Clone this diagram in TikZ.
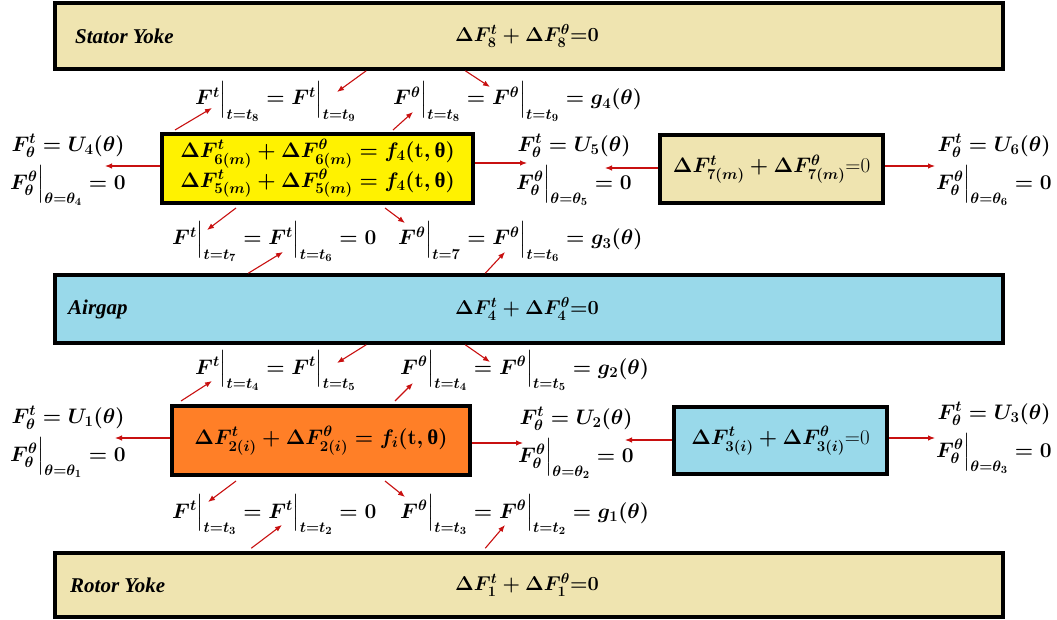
\RequirePackage{fix-cm}
\documentclass[tikz,border=0pt]{standalone}
\usepackage{amsmath}
\usepackage{fontspec}
\newfontfamily\grkfont{Liberation Serif}
\newfontfamily\lblfont{Liberation Serif}
\usetikzlibrary{arrows.meta}
\DeclareMathSizes{21}{21}{15}{11}
\DeclareMathSizes{20}{20}{14.5}{11}
\definecolor{beige}{RGB}{239,228,176}
\definecolor{skyb}{RGB}{153,217,234}
\definecolor{yel}{RGB}{255,242,0}
\definecolor{orng}{RGB}{255,127,39}
\definecolor{arr}{RGB}{200,16,16}
\newcommand{\ev}[2]{#1\Big|_{#2}}
\newcommand{\uth}{\mbox{\grkfont\bfseries θ}}
\begin{document}
\begin{tikzpicture}[x=1pt,y=-1pt,
  bar/.style={draw=black,line width=3.5pt,minimum width=948pt,inner sep=0pt},
  box/.style={draw=black,line width=4pt,inner sep=0pt,align=center,
    font=\fontsize{21}{28}\selectfont\boldmath},
  barlbl/.style={anchor=west,inner sep=0pt,font=\fontsize{21}{24}\selectfont\lblfont\bfseries\itshape},
  bareq/.style={inner sep=0pt,font=\fontsize{20}{22}\selectfont\boldmath},
  cond/.style={anchor=base west,inner sep=0pt,font=\fontsize{21}{24}\selectfont\boldmath},
  bc/.style={anchor=north,inner sep=0pt,align=center,font=\fontsize{21}{38}\selectfont\boldmath},
  con/.style={draw=arr,line width=1.1pt,-{Latex[length=7pt,width=5.5pt]}}]
\useasboundingbox (0,0) rectangle (1057,620);
% bars
\node[bar,fill=beige,minimum height=66pt] (stator) at (529,36) {};
\node[bar,fill=skyb,minimum height=68pt] (airgap) at (529,309) {};
\node[bar,fill=beige,minimum height=64pt] (rotor) at (529,585) {};
\node[barlbl] (statorlbl) at (75,36) {Stator Yoke};
\node[barlbl] (airgaplbl) at (68,309) {Airgap};
\node[barlbl] (rotorlbl) at (70,585) {Rotor Yoke};
\node[bareq] (statoreq) at (527,36) {$\Delta F_8^{t}+\Delta F_8^{\theta}$\textbf{=0}};
\node[bareq] (airgapeq) at (527,309) {$\Delta F_4^{t}+\Delta F_4^{\theta}$\textbf{=0}};
\node[bareq] (rotoreq) at (527,585) {$\Delta F_1^{t}+\Delta F_1^{\theta}$\textbf{=0}};
% boxes
\node[box,fill=yel,minimum width=311pt,minimum height=69pt] (yellow) at (317.5,168.5)
  {$\Delta F^{t}_{6(m)}+\Delta F^{\theta}_{6(m)}=f_4(\mathbf{t},\uth)$\\
   $\Delta F^{t}_{5(m)}+\Delta F^{\theta}_{5(m)}=f_4(\mathbf{t},\uth)$};
\node[box,fill=beige,minimum width=223pt,minimum height=68pt] (tan) at (771.5,169)
  {$\Delta F^{t}_{7(m)}+\Delta F^{\theta}_{7(m)}$=0};
\node[box,fill=orng,minimum width=298pt,minimum height=69pt] (orange) at (321,440.5)
  {$\Delta F^{t}_{2(i)}+\Delta F^{\theta}_{2(i)}=f_i(\mathbf{t},\uth)$};
\node[box,fill=skyb,minimum width=213pt,minimum height=67pt] (blue) at (780.5,440.5)
  {$\Delta F^{t}_{3(i)}+\Delta F^{\theta}_{3(i)}$=0};
% condition labels, upper half
\node[cond] (c8a) at (195,105) {$\ev{F^t}{t=t_8}=\ev{F^t}{t=t_9}$};
\node[cond] (c8b) at (393,105) {$\ev{F^\theta}{t=t_8}=\ev{F^\theta}{t=t_9}=g_4(\theta)$};
\node[bc] (u4) at (68,134) {$F^t_\theta=U_4(\theta)$\\$\ev{F^\theta_\theta}{\theta=\theta_4}=0$};
\node[bc] (u5) at (574,134) {$F^t_\theta=U_5(\theta)$\\$\ev{F^\theta_\theta}{\theta=\theta_5}=0$};
\node[bc] (u6) at (994,134) {$F^t_\theta=U_6(\theta)$\\$\ev{F^\theta_\theta}{\theta=\theta_6}=0$};
\node[cond] (c6a) at (172,245) {$\ev{F^t}{t=t_7}=\ev{F^t}{t=t_6}=0$};
\node[cond] (c6b) at (398,245) {$\ev{F^\theta}{t=7}=\ev{F^\theta}{t=t_6}=g_3(\theta)$};
% condition labels, lower half
\node[cond] (c4a) at (195,374) {$\ev{F^t}{t=t_4}=\ev{F^t}{t=t_5}$};
\node[cond] (c4b) at (400,374) {$\ev{F^\theta}{t=t_4}=\ev{F^\theta}{t=t_5}=g_2(\theta)$};
\node[bc] (u1) at (68,406) {$F^t_\theta=U_1(\theta)$\\$\ev{F^\theta_\theta}{\theta=\theta_1}=0$};
\node[bc] (u2) at (576,407) {$F^t_\theta=U_2(\theta)$\\$\ev{F^\theta_\theta}{\theta=\theta_2}=0$};
\node[bc] (u3) at (994,402) {$F^t_\theta=U_3(\theta)$\\$\ev{F^\theta_\theta}{\theta=\theta_3}=0$};
\node[cond] (c2a) at (172,518) {$\ev{F^t}{t=t_3}=\ev{F^t}{t=t_2}=0$};
\node[cond] (c2b) at (400,518) {$\ev{F^\theta}{t=t_3}=\ev{F^\theta}{t=t_2}=g_1(\theta)$};
% arrow end points
\coordinate (e1) at (337,92);  \coordinate (e2) at (490,87);
\coordinate (e3) at (212,108); \coordinate (e4) at (413,112);
\coordinate (e5) at (105,166); \coordinate (e6) at (527,163);
\coordinate (e7) at (605,168); \coordinate (e8) at (935,166);
\coordinate (e9) at (207,230); \coordinate (e10) at (405,223);
\coordinate (e11) at (283,252); \coordinate (e12) at (505,252);
\coordinate (e13) at (337,363); \coordinate (e14) at (490,362);
\coordinate (e15) at (212,381); \coordinate (e16) at (413,383);
\coordinate (e17) at (115,438); \coordinate (e18) at (523,443);
\coordinate (e19) at (625,440); \coordinate (e20) at (935,438);
\coordinate (e21) at (208,502); \coordinate (e22) at (405,497);
\coordinate (e23) at (282,525); \coordinate (e24) at (505,525);
% arrows
\draw[con] ([xshift=313pt]stator.south west) -- (e1);
\draw[con] ([xshift=412pt]stator.south west) -- (e2);
\draw[con] ([xshift=15pt,yshift=2pt]yellow.north west) -- (e3);
\draw[con] ([xshift=233pt,yshift=2pt]yellow.north west) -- (e4);
\draw[con] (yellow.west |- e5) -- (e5);
\draw[con] (yellow.east |- e6) -- (e6);
\draw[con] (tan.west |- e7) -- (e7);
\draw[con] (tan.east |- e8) -- (e8);
\draw[con] ([xshift=76pt,yshift=-3pt]yellow.south west) -- (e9);
\draw[con] ([xshift=225pt,yshift=-3pt]yellow.south west) -- (e10);
\draw[con] ([xshift=195pt]airgap.north west) -- (e11);
\draw[con] ([xshift=432pt]airgap.north west) -- (e12);
\draw[con] ([xshift=313pt]airgap.south west) -- (e13);
\draw[con] ([xshift=412pt]airgap.south west) -- (e14);
\draw[con] ([xshift=11pt,yshift=3pt]orange.north west) -- (e15);
\draw[con] ([xshift=225pt,yshift=3pt]orange.north west) -- (e16);
\draw[con] (orange.west |- e17) -- (e17);
\draw[con] (orange.east |- e18) -- (e18);
\draw[con] (blue.west |- e19) -- (e19);
\draw[con] (blue.east |- e20) -- (e20);
\draw[con] ([xshift=66pt,yshift=-4pt]orange.south west) -- (e21);
\draw[con] ([xshift=215pt,yshift=-4pt]orange.south west) -- (e22);
\draw[con] ([xshift=198pt,yshift=3pt]rotor.north west) -- (e23);
\draw[con] ([xshift=432pt,yshift=3pt]rotor.north west) -- (e24);
\end{tikzpicture}
\end{document}
